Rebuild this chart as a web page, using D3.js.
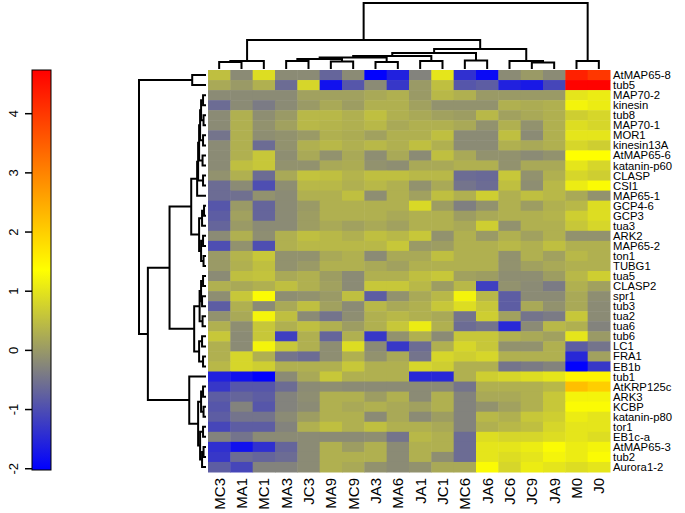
<!DOCTYPE html>
<html>
<head>
<meta charset="utf-8">
<script src="https://cdn.jsdelivr.net/npm/d3@7/dist/d3.min.js"></script>
<style>
  body { margin: 0; background: #fff; }
  text { font-family: "Liberation Sans", Arial, Helvetica, sans-serif; fill: #000; }
</style>
</head>
<body>
<svg></svg>
<script>
// column (sample) order as drawn
var samples = ["MC3", "MA1", "MC1", "MA3", "JC3", "MA9", "MC9", "JA3", "MA6",
	"JA1", "JC1", "MC6", "JA6", "JC6", "JC9", "JA9", "M0", "J0"];

// row (gene) order as drawn
var genes = ["AtMAP65-8", "tub5", "MAP70-2", "kinesin", "tub8", "MAP70-1", "MOR1",
	"kinesin13A", "AtMAP65-6", "katanin-p60", "CLASP", "CSI1", "MAP65-1", "GCP4-6",
	"GCP3", "tua3", "ARK2", "MAP65-2", "ton1", "TUBG1", "tua5", "CLASP2", "spr1",
	"tub3", "tua2", "tua6", "tub6", "LC1", "FRA1", "EB1b", "tub1", "AtKRP125c",
	"ARK3", "KCBP", "katanin-p80", "tor1", "EB1c-a", "AtMAP65-3", "tub2", "Aurora1-2"];

// scaled expression, one row per gene, one value per sample
var values = [
	[0.5, -0.2, 0.9, -0.2, -0.2, -0.7, -0.2, -2.0, -1.6, -0.3, 1.0, -1.4, -1.9, -0.2, 0.0, -0.2, 4.3, 4.0],
	[0.2, 0.0, 0.3, -0.6, 0.8, -1.8, -0.9, -0.2, -1.3, 0.0, 0.5, -0.9, -0.8, -1.6, -1.7, -1.1, 4.7, 4.7],
	[-0.2, -0.2, -0.2, -0.2, 0.1, 0.1, 0.1, 0.2, 0.3, 0.0, 0.4, 0.3, 0.0, 0.0, 0.0, 0.0, 1.0, 1.1],
	[-0.6, -0.2, -0.4, -0.2, 0.0, 0.2, 0.05, 0.3, 0.3, 0.1, -0.1, -0.1, -0.1, 0.3, 0.25, 0.3, 1.2, 1.1],
	[-0.2, 0.3, -0.15, 0.0, 0.4, 0.4, 0.3, 0.5, 0.3, 0.2, 0.1, 0.05, 0.4, 0.1, 0.2, 0.3, 0.7, 0.8],
	[-0.2, 0.3, -0.1, 0.1, 0.4, 0.35, 0.3, 0.4, 0.2, 0.3, 0.3, 0.2, -0.1, 0.3, -0.1, 0.3, 0.9, 0.8],
	[-0.5, 0.3, -0.15, -0.1, 0.0, 0.3, 0.25, 0.1, 0.3, 0.3, 0.5, -0.2, -0.2, 0.5, -0.2, 0.3, 1.0, 1.0],
	[-0.2, 0.3, -0.6, -0.1, 0.3, 0.4, 0.3, 0.4, 0.3, 0.5, 0.3, -0.2, -0.2, 0.3, 0.2, 0.3, 0.8, 0.7],
	[-0.2, 0.3, 0.6, -0.15, 0.2, -0.1, 0.2, -0.15, 0.2, -0.2, 0.5, 0.2, -0.1, -0.1, -0.2, -0.1, 1.35, 1.35],
	[-0.2, 0.5, 0.6, -0.1, -0.1, 0.2, 0.25, -0.1, -0.15, 0.2, 0.2, 0.3, 0.3, -0.1, 0.2, 0.2, 1.0, 0.8],
	[-0.1, 0.3, -0.6, 0.2, 0.55, 0.5, 0.35, 0.5, 0.5, 0.4, 0.4, -0.6, -0.65, 0.6, -0.1, 0.3, 0.8, 0.7],
	[-0.6, -0.2, -1.0, -0.15, 0.4, 0.4, 0.3, 0.4, 0.3, -0.1, 0.2, -0.5, -0.6, 0.5, -0.15, 0.4, 1.1, 1.3],
	[-0.6, -0.55, -0.1, -0.2, 0.3, 0.3, 0.5, -0.15, 0.3, 0.1, 0.5, 0.3, 0.7, 0.3, 0.5, 0.4, 0.2, -0.1],
	[-0.9, 0.0, -0.7, -0.2, 0.0, 0.3, 0.3, 0.3, 0.3, 0.85, 0.05, -0.35, -0.1, 0.3, 0.05, 0.3, 0.4, 0.9],
	[-0.8, 0.1, -0.7, -0.2, 0.05, 0.3, 0.3, 0.3, 0.2, 0.3, 0.3, 0.05, 0.2, 0.3, 0.3, 0.35, 0.7, 0.9],
	[-0.7, 0.0, -0.2, -0.2, 0.05, 0.2, 0.1, 0.2, 0.1, 0.3, 0.3, 0.2, 0.7, -0.1, 0.3, 0.3, 0.6, 0.8],
	[-0.2, 0.3, -0.15, 0.3, 0.5, 0.4, 0.3, 0.5, 0.4, 0.6, -0.1, 0.3, 0.0, 0.3, 0.1, 0.3, -0.1, -0.1],
	[-1.0, -0.1, -1.0, 0.3, 0.4, 0.4, 0.4, 0.4, 0.6, 0.0, 0.05, 0.3, 0.3, 0.4, 0.3, 0.5, 0.3, 0.3],
	[0.0, 0.35, 0.6, -0.1, -0.1, 0.2, 0.3, -0.2, 0.2, 0.2, 0.5, 0.3, 0.3, -0.1, 0.3, 0.1, 0.4, 0.3],
	[0.0, 0.3, 0.5, -0.1, 0.0, 0.3, 0.3, 0.2, 0.1, 0.3, 0.3, 0.3, 0.3, -0.1, 0.1, 0.2, 0.3, 0.3],
	[-0.2, 0.5, 0.55, 0.2, 0.3, 0.05, -0.2, 0.3, 0.3, 0.5, 0.6, 0.1, 0.05, -0.15, -0.15, 0.05, 0.4, 0.7],
	[0.3, 0.2, 0.3, 0.5, 0.3, 0.1, -0.2, 0.6, 0.6, 0.4, 0.05, 0.4, -1.2, -0.1, -0.2, -0.4, 0.3, 0.1],
	[-0.15, 0.6, 1.3, -0.15, -0.1, 0.0, 0.5, -0.8, -0.1, 0.2, 0.4, 1.2, 0.4, -0.8, -0.2, -0.2, 0.2, -0.15],
	[-0.8, 0.3, -0.2, 0.2, 0.5, 0.1, -0.2, 0.4, 0.2, 0.3, 0.6, 0.9, 0.6, -0.8, 0.2, -0.1, 0.2, -0.2],
	[-0.1, 0.2, 1.2, 0.5, -0.2, -0.5, -0.15, 0.3, 0.4, 0.3, 0.2, -0.5, 0.7, 0.1, -0.5, -0.4, 0.6, -0.2],
	[0.3, -0.15, 0.6, 0.3, 0.5, 0.3, 0.05, 0.3, 0.6, 1.1, 0.3, -0.6, -0.5, -1.5, -0.2, 0.4, 0.3, -0.3],
	[0.6, -0.2, 0.6, -1.2, 0.3, -0.7, 0.3, -1.3, -0.1, 0.3, -0.2, 0.6, 0.6, 0.3, 0.2, 0.1, 1.0, 0.0],
	[0.3, -0.2, 1.2, 0.6, 0.3, -0.15, 0.9, -0.2, -1.3, -0.6, 0.3, 0.8, 0.6, -0.1, -0.1, 0.3, -0.8, -0.5],
	[0.3, 0.8, 0.3, -0.5, -0.6, -0.15, 0.3, -0.1, 0.2, -0.5, 0.8, 0.7, 0.8, 0.3, 0.3, 0.3, -1.5, 0.1],
	[0.4, 0.8, 0.7, 0.3, 0.3, 0.3, 0.6, 0.3, 0.3, 0.8, 0.7, 0.3, 0.3, -0.5, -0.4, -0.3, -2.0, -1.3],
	[-1.6, -1.8, -2.0, -0.2, 0.2, 0.6, 0.3, 0.3, 0.3, -1.5, -1.5, 0.3, 0.7, 0.8, 0.9, 1.0, 1.5, 1.5],
	[-1.3, -0.9, -0.9, -0.6, -0.2, -0.15, -0.2, -0.2, -0.2, -0.2, -0.2, -0.5, 0.3, 0.3, 0.3, 0.4, 2.2, 2.0],
	[-0.8, -0.7, -0.8, -0.3, -0.15, 0.3, 0.3, 0.05, 0.3, -0.2, 0.3, -0.3, 0.2, 0.2, 0.3, 0.6, 1.2, 1.2],
	[-0.9, -0.3, -0.9, -0.3, -0.2, 0.3, 0.2, 0.3, 0.2, 0.1, 0.3, -0.3, -0.1, 0.1, 0.3, 0.6, 1.3, 1.3],
	[-0.8, -0.5, -0.5, -0.2, 0.05, 0.3, 0.3, -0.2, 0.2, -0.2, 0.05, -0.3, 0.4, 0.3, 0.6, 0.7, 1.1, 1.0],
	[-1.1, -0.8, -0.8, -0.3, 0.3, 0.5, 0.3, 0.5, 0.3, 0.3, 0.2, -0.3, 0.3, 0.4, 0.5, 0.8, 1.0, 1.0],
	[-0.3, -0.5, -0.2, -0.2, -0.2, -0.2, -0.2, -0.15, -0.5, 0.4, 0.3, -0.6, 0.9, 0.8, 0.8, 0.9, 1.0, 0.9],
	[-1.4, -1.8, -1.4, -0.7, -0.2, 0.3, 0.05, 0.3, -0.2, 0.3, 0.3, -0.6, 1.0, 1.0, 1.1, 1.3, 1.1, 1.2],
	[-1.3, -0.6, -0.7, -0.6, -0.2, 0.3, 0.3, 0.3, -0.2, 0.3, -0.15, -0.6, 1.0, 0.9, 1.0, 1.2, 1.1, 1.3],
	[-0.8, -1.1, -0.3, -0.3, -0.2, 0.3, 0.2, -0.1, -0.2, -0.1, 0.2, 0.2, 1.3, 0.8, 1.1, 1.0, 0.9, 1.0]
];

// dendrograms: [mergeHeight, left, right], a bare number is a leaf index
var colTree = [66,
	[29,
		[8, [7, 0, 1], 2],
		[20,
			[16,
				[13, [11.5, [10, [8, 3, 4], [7.5, 5, 6]], [7, 7, 8]], [8, 9, 10]],
				[8.5, 11, 12]],
			[8, 13, [6.5, 14, 15]]]],
	[8, 16, 17]];

var rowTree = [68,
	[14, 0, 1],
	[59,
		[37,
			[15,
				[9, [8, [7, [6, [5, [3, 2, 3], [2.5, 4, 5]], [3, 6, 7]], [3.5, 8, 9]], [3, 10, 11]], 12],
				[7, [4, [2, 13, 14], 15], [5, [3, 16, 17], [2.5, 18, 19]]]],
			[12,
				[6.5, [5, [3, 20, 21], [4, 22, 23]], [3.5, 24, 25]],
				[7, [4, 26, 27], [3, 28, 29]]]],
		[17, 30,
			[8, [5, [3, 31, 32], [2.5, 33, 34]], [6, [3, 35, 36], [4, [2.5, 37, 38], 39]]]]]];

var legendTicks = [-2, -1, 0, 1, 2, 3, 4];
var legendColors = ["#0000ff", "#808080", "#ffff00", "#ff8000", "#ff0000"];
var valueRange = [-2.03, 4.73];

var draw = function() {

	var W = 685, H = 513;
	var hm = { left: 208, right: 610, top: 70, bottom: 472 };

	var svg = d3.select("svg")
		.attr("width", W)
		.attr("height", H);

	svg.append("rect")
		.attr("width", W)
		.attr("height", H)
		.attr("fill", "#fff");

	// scales
	var x = d3.scaleBand()
		.domain(d3.range(samples.length))
		.range([hm.left, hm.right]);

	var y = d3.scaleBand()
		.domain(d3.range(genes.length))
		.range([hm.top, hm.bottom]);

	var stops = legendColors.map(function(c, i) {
		return valueRange[0] + i * (valueRange[1] - valueRange[0]) / (legendColors.length - 1);
	});
	var color = d3.scaleLinear()
		.domain(stops)
		.range(legendColors)
		.clamp(true);

	// heatmap cells
	var cells = [];
	values.forEach(function(row, r) {
		row.forEach(function(v, c) {
			cells.push({ r: r, c: c, v: v });
		});
	});

	svg.append("g")
		.selectAll("rect")
		.data(cells)
		.enter()
		.append("rect")
		.attr("x", function(d) { return x(d.c); })
		.attr("y", function(d) { return y(d.r); })
		.attr("width", x.bandwidth() + 0.5)
		.attr("height", y.bandwidth() + 0.5)
		.attr("fill", function(d) { return color(d.v); });

	// row labels
	svg.append("g")
		.selectAll("text")
		.data(genes)
		.enter()
		.append("text")
		.attr("x", hm.right + 3)
		.attr("y", function(d, i) { return y(i) + y.bandwidth() / 2; })
		.attr("dy", "0.36em")
		.attr("font-size", "11.3px")
		.text(function(d) { return d; });

	// column labels
	svg.append("g")
		.selectAll("text")
		.data(samples)
		.enter()
		.append("text")
		.attr("transform", function(d, i) {
			return "translate(" + (x(i) + x.bandwidth() / 2) + "," + (hm.bottom + 6) + ") rotate(-90)";
		})
		.attr("text-anchor", "end")
		.attr("dy", "0.36em")
		.attr("font-size", "15px")
		.text(function(d) { return d; });

	// dendrograms
	var colH = d3.scaleLinear().domain([0, colTree[0]]).range([hm.top - 1, 3]);
	var rowH = d3.scaleLinear().domain([0, rowTree[0]]).range([hm.left - 2, 139]);

	var colPaths = [], rowPaths = [];

	function walk(node, leafPos, out, elbow) {
		if (typeof node === "number") return { p: leafPos(node), h: 0 };
		var a = walk(node[1], leafPos, out, elbow);
		var b = walk(node[2], leafPos, out, elbow);
		out.push(elbow(a, b, node[0]));
		return { p: (a.p + b.p) / 2, h: node[0] };
	}

	walk(colTree, function(i) { return x(i) + x.bandwidth() / 2; }, colPaths, function(a, b, h) {
		return "M" + a.p + "," + colH(a.h) + "V" + colH(h) + "H" + b.p + "V" + colH(b.h);
	});
	walk(rowTree, function(i) { return y(i) + y.bandwidth() / 2; }, rowPaths, function(a, b, h) {
		return "M" + rowH(a.h) + "," + a.p + "H" + rowH(h) + "V" + b.p + "H" + rowH(b.h);
	});

	svg.append("g")
		.selectAll("path")
		.data(colPaths.concat(rowPaths))
		.enter()
		.append("path")
		.attr("d", function(d) { return d; })
		.attr("fill", "none")
		.attr("stroke", "#000")
		.attr("stroke-width", 2);

	// colour key
	var key = { x: 32, w: 19, top: 70, bottom: 470 };
	var keyY = d3.scaleLinear().domain(valueRange).range([key.bottom, key.top]);

	var grad = svg.append("defs")
		.append("linearGradient")
		.attr("id", "keygrad")
		.attr("x1", 0).attr("y1", 1)
		.attr("x2", 0).attr("y2", 0);
	grad.selectAll("stop")
		.data(stops)
		.enter()
		.append("stop")
		.attr("offset", function(d) { return (d - valueRange[0]) / (valueRange[1] - valueRange[0]); })
		.attr("stop-color", function(d) { return color(d); });

	svg.append("rect")
		.attr("x", key.x)
		.attr("y", key.top)
		.attr("width", key.w)
		.attr("height", key.bottom - key.top)
		.attr("fill", "url(#keygrad)")
		.attr("stroke", "#000")
		.attr("stroke-width", 1);

	// plain hyphen minus, like the reference
	var axis = svg.append("g")
		.attr("transform", "translate(" + key.x + ",0)")
		.call(d3.axisLeft(keyY).tickValues(legendTicks).tickSize(7)
			.tickFormat(function(d) { return String(d); }));
	axis.select(".domain").remove();
	axis.selectAll("line").attr("stroke-width", 1.5);
	axis.selectAll("text")
		.attr("x", null)
		.attr("dy", null)
		.attr("transform", "translate(-19,0) rotate(-90)")
		.attr("text-anchor", "middle")
		.attr("dy", "0.36em")
		.attr("font-size", "13px")
		.attr("font-family", "Liberation Sans, Arial, sans-serif")
		.attr("fill", "#000");
};

draw();
</script>
</body>
</html>
